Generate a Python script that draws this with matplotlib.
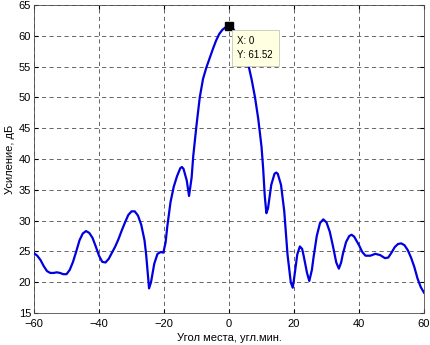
import matplotlib
matplotlib.use('Agg')
import matplotlib.pyplot as plt

plt.rcParams['font.family'] = ['Liberation Sans', 'DejaVu Sans']

# angle (arc min) and gain (dB)
angle = [-60, -59, -58, -57, -56, -55, -54, -53, -52, -51, -50, -49, -48, -47, -46, -45,
         -44, -43, -42, -41, -40, -39, -38, -37, -36, -35, -34, -33, -32, -31, -30, -29,
         -28, -27, -26, -25.5, -25, -24.6, -24, -23, -22, -21, -20.2, -19.5, -19, -18,
         -17, -16, -15, -14.5, -14, -13, -12.3, -11.5, -11, -10, -9, -8, -7, -6, -5, -4,
         -3, -2, -1, 0, 1, 2, 3, 4, 5, 6, 7, 8, 9, 10, 10.5, 11, 11.5, 12, 13, 14, 14.5,
         15, 16, 17, 17.5, 18, 19, 19.6, 20, 21, 21.8, 22.5, 23, 24, 24.7, 25.5, 26, 27,
         28, 29, 30, 31, 32, 33, 33.8, 34.5, 35, 36, 37, 37.7, 38.5, 40, 41, 42, 43.5, 45,
         46.5, 48, 49, 50, 51, 52, 53, 54, 55, 56, 57, 58, 59, 60]
gain = [24.7, 24.3, 23.6, 22.6, 21.8, 21.5, 21.5, 21.6, 21.5, 21.3, 21.3, 22.0, 23.3,
        25.0, 26.8, 27.9, 28.3, 28.0, 27.2, 25.8, 24.3, 23.3, 23.2, 23.8, 24.8, 25.8,
        27.0, 28.4, 29.7, 30.9, 31.5, 31.5, 30.8, 29.3, 26.8, 24.5, 21.5, 19.0, 20.0,
        23.0, 24.6, 24.9, 24.8, 26.5, 29.0, 33.0, 35.5, 37.2, 38.5, 38.7, 38.4, 36.5,
        34.0, 37.0, 40.5, 45.5, 50.0, 53.0, 54.8, 56.3, 57.8, 59.2, 60.3, 61.0, 61.4,
        61.52, 61.3, 60.6, 59.6, 58.3, 56.8, 55.2, 52.8, 50.0, 46.5, 42.0, 38.5, 34.0,
        31.2, 32.0, 35.8, 37.6, 37.8, 37.6, 35.8, 31.5, 28.0, 24.5, 20.0, 19.1, 20.5,
        24.5, 25.8, 25.4, 24.2, 21.5, 20.2, 22.0, 24.0, 27.5, 29.6, 30.2, 29.7, 28.2,
        25.8, 23.2, 22.2, 23.2, 24.5, 26.5, 27.5, 27.7, 27.4, 26.0, 24.9, 24.3, 24.3,
        24.6, 24.4, 23.9, 24.0, 24.8, 25.7, 26.2, 26.3, 26.0, 25.2, 24.0, 22.5, 20.6,
        19.2, 18.3]

tip_x = 0
tip_y = 61.52

fig = plt.figure(figsize=(4.31, 3.45), dpi=100)
ax = fig.add_axes([0.0789, 0.0928, 0.9049, 0.8927])

ax.plot(angle, gain, color='#0000e0', linewidth=1.6, zorder=3)

# data tip
ax.plot([tip_x], [tip_y], marker='s', color='black', markersize=6, zorder=5)
ax.text(tip_x + 2.6, tip_y - 1.6, 'X: 0\nY: 61.52', fontsize=7, va='top', ha='left',
        linespacing=1.45, zorder=6,
        bbox=dict(boxstyle='square,pad=0.6', facecolor='#ffffe1', edgecolor='#c8c8b4',
                  linewidth=0.6))

ax.set_xlim(-60, 60)
ax.set_ylim(15, 65)
ax.set_xticks(range(-60, 61, 20))
ax.set_yticks(range(15, 66, 5))
ax.tick_params(direction='in', labelsize=8, length=3, top=True, right=True)
ax.tick_params(axis='x', pad=4)
ax.tick_params(axis='y', pad=2)
ax.grid(True, color='0.3', linestyle=(0, (5, 4)), linewidth=0.6)
for s in ax.spines.values():
    s.set_linewidth(0.6)
    s.set_color('0.3')

ax.set_xlabel('Угол места, угл.мин.', fontsize=8, labelpad=3)
ax.set_ylabel('Усиление, дБ', fontsize=8, labelpad=3)

fig.savefig('out.png', dpi=100)
